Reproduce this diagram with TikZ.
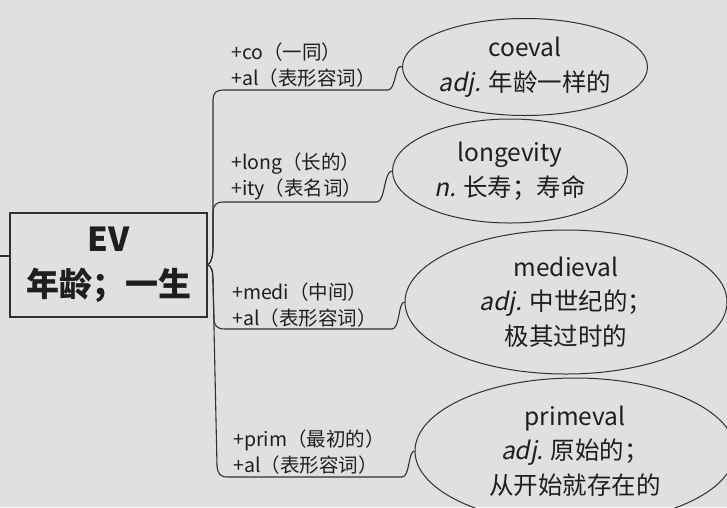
\documentclass[tikz,border=0pt]{standalone}
\usepackage{fontspec}
\setmainfont{Noto Sans CJK SC}
\newfontfamily\slantf{Noto Sans CJK SC}[FakeSlant=0.2]
\usetikzlibrary{shapes.geometric}
\definecolor{bg}{HTML}{E0E0E0}
\definecolor{ink}{HTML}{1E1E1E}
\definecolor{wire}{HTML}{303030}
\begin{document}
\begin{tikzpicture}[x=1pt,y=-1pt,
  wordbox/.style={ellipse,draw=wire,line width=1pt,inner sep=0pt,align=center,text=ink,
    font=\fontsize{24.5}{34.5}\selectfont},
  rootbox/.style={rectangle,draw=wire,line width=1.5pt,inner sep=0pt,align=center,text=ink,
    minimum width=197pt,minimum height=104pt,font=\fontsize{33}{45}\selectfont\bfseries},
  affix/.style={anchor=west,align=left,inner sep=0pt,text=ink,font=\fontsize{19.5}{26}\selectfont},
  link/.style={draw=wire,line width=1.1pt}]
\path[fill=bg,use as bounding box] (0,0) rectangle (727,507);
\clip (0,0) rectangle (727,507);

\node[rootbox] (root) at (108.5,265) {EV\\年龄；一生};
\coordinate (lft) at (0,256);
\draw[link] (lft) -- (root.west |- lft);

\node[wordbox,minimum width=245pt,minimum height=97pt] (e1) at (525,67)
  {coeval\\{\slantf adj.} 年龄一样的};
\node[wordbox,minimum width=235pt,minimum height=104pt] (e2) at (510,171)
  {longevity\\{\slantf n.} 长寿；寿命};
\node[wordbox,minimum width=322pt,minimum height=144pt] (e3) at (566,302)
  {medieval\\{\slantf adj.} 中世纪的；\\极其过时的};
\node[wordbox,minimum width=320pt,minimum height=146pt] (e4) at (575,451)
  {primeval\\{\slantf adj.} 原始的；\\从开始就存在的};

\node[affix] (l1) at (231,65) {+co（一同）\\+al（表形容词）};
\node[affix] (l2) at (231,176) {+long（长的）\\+ity（表名词）};
\node[affix] (l3) at (232,305.5) {+medi（中间）\\+al（表形容词）};
\node[affix] (l4) at (233,452.5) {+prim（最初的）\\+al（表形容词）};

\draw[link] (root.east) .. controls (212,262) and (213,255) .. (213,245) -- (213,100)
  .. controls (213,93) and (216,90) .. (224,90) -- (388,90)
  .. controls (396,90) and (395,62) .. (e1.west);
\draw[link] (root.east) .. controls (212,262) and (213,255) .. (213,245) -- (213,213)
  .. controls (213,205) and (216,202) .. (224,202) -- (377,202)
  .. controls (385,202) and (384,171) .. (e2.west);
\draw[link] (root.east) .. controls (212,266) and (213,272) .. (213,282) -- (214,318)
  .. controls (214,326) and (217,329) .. (225,329) -- (392,329)
  .. controls (400,329) and (398,302) .. (e3.west);
\draw[link] (root.east) .. controls (212,266) and (213,272) .. (213,282) -- (217,466)
  .. controls (218,474) and (220,477) .. (228,477) -- (402,477)
  .. controls (410,477) and (408,451) .. (e4.west);
\end{tikzpicture}
\end{document}
